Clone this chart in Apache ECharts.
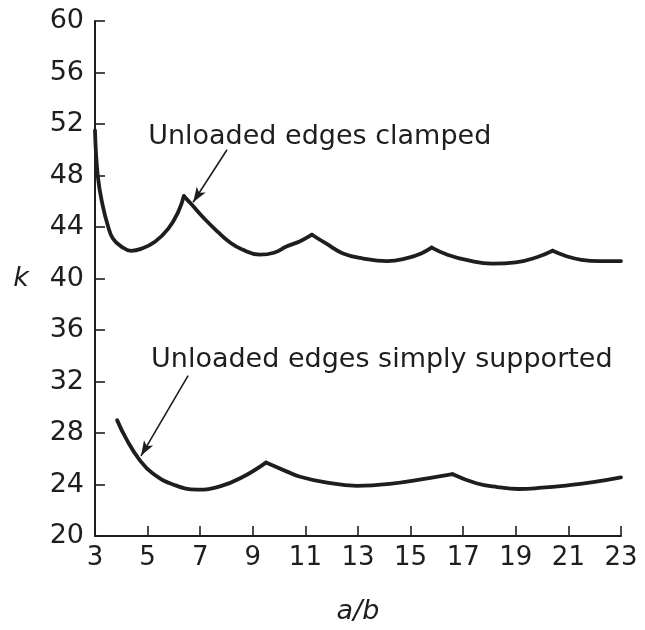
<!DOCTYPE html>
<html>
<head>
<meta charset="utf-8">
<script src="https://cdn.jsdelivr.net/npm/echarts@6/dist/echarts.min.js"></script>
<style>
  html, body { margin: 0; padding: 0; background: #fff; }
  #chart { width: 645px; height: 630px; }
</style>
</head>
<body>
<div id="chart"></div>
<script>
// Buckling coefficient k of a long plate versus aspect ratio a/b

const xTicks = [3, 5, 7, 9, 11, 13, 15, 17, 19, 21, 23];
const yTicks = [20, 24, 28, 32, 36, 40, 44, 48, 52, 56, 60];

// Unloaded edges clamped
const clampedAB = [3.0, 3.11, 3.3, 3.49, 3.68, 3.99, 4.37, 4.75, 5.28, 5.78, 6.16, 6.38,
  6.65, 7.18, 7.68, 8.1, 8.6, 9.27, 9.8, 10.3, 10.8, 11.25,
  11.8, 12.43, 13.2, 14.1, 14.9, 15.4, 15.8,
  16.4, 17.2, 18.1, 19.0, 19.8, 20.4,
  20.9, 21.5, 22.2, 23.0];
const clampedK = [51.5, 47.9, 45.6, 44.1, 43.1, 42.5, 42.15, 42.3, 42.85, 43.85, 45.15, 46.4,
  45.8, 44.6, 43.6, 42.85, 42.25, 41.85, 42.0, 42.5, 42.9, 43.4,
  42.7, 41.95, 41.55, 41.35, 41.6, 41.95, 42.4,
  41.85, 41.4, 41.15, 41.25, 41.65, 42.15,
  41.75, 41.45, 41.35, 41.35];
// a/b values where the buckle mode changes (cusps)
const clampedCusps = [6.38, 11.25, 15.8, 20.4];

// Unloaded edges simply supported
const simplyAB = [3.84, 4.2, 4.7, 5.2, 5.97, 6.88, 7.75, 8.63, 9.5,
  10.3, 10.8, 11.67, 12.96, 14.2, 15.7, 16.6,
  17.5, 18.3, 19.1, 20.0, 20.8, 22.0, 23.0];
const simplyK = [29.0, 27.5, 25.9, 24.85, 24.0, 23.6, 23.85, 24.6, 25.7,
  25.0, 24.6, 24.2, 23.9, 24.05, 24.5, 24.8,
  24.1, 23.8, 23.65, 23.75, 23.9, 24.2, 24.55];
const simplyCusps = [9.5, 16.6];

// Annotation labels with their leader arrows, in data coordinates
const clampedLabel = { text: 'Unloaded edges clamped', at: [5.02, 51.0] };
const clampedArrow = { from: [8.02, 50.0], to: [6.73, 45.92] };
const simplyLabel = { text: 'Unloaded edges simply supported', at: [5.13, 33.65] };
const simplyArrow = { from: [6.54, 32.46], to: [4.75, 26.23] };

const INK = '#1e1e1e';
const FONT = 'DejaVu Sans';

// Break a curve into smooth arcs joined at sharp cusps
function arcs(xs, ys, cusps) {
  const out = [];
  let cur = [];
  xs.forEach((x, i) => {
    cur.push([x, ys[i]]);
    if (cusps.indexOf(x) >= 0 && i < xs.length - 1) {
      out.push(cur);
      cur = [[x, ys[i]]];
    }
  });
  out.push(cur);
  return out;
}

function arrowLine(a) {
  return {
    silent: true,
    symbol: ['none', 'arrow'],
    symbolSize: 12,
    lineStyle: { color: INK, width: 1.6, type: 'solid' },
    itemStyle: { color: INK },
    label: { show: false },
    emphasis: { disabled: true },
    animation: false,
    data: [[
      { coord: a.from, symbol: 'none' },
      { coord: a.to, symbol: 'arrow', symbolSize: [8, 15] }
    ]]
  };
}

function curveSeries(xs, ys, cusps, arrow) {
  return arcs(xs, ys, cusps).map((seg, i) => {
    const s = {
      type: 'line',
      data: seg,
      smooth: 0.45,
      showSymbol: false,
      silent: true,
      animation: false,
      lineStyle: { color: INK, width: 3.8, cap: 'round', join: 'round' }
    };
    if (i === 0) s.markLine = arrowLine(arrow);
    return s;
  });
}

const chart = echarts.init(document.getElementById('chart'), null, { renderer: 'canvas' });

chart.setOption({
  backgroundColor: '#ffffff',
  animation: false,
  grid: { left: 95, right: 24, top: 21, bottom: 90, containLabel: false },
  xAxis: {
    type: 'value',
    min: 3,
    max: 23,
    interval: 2,
    name: 'a/b',
    nameLocation: 'middle',
    nameGap: 62,
    nameTextStyle: { fontFamily: FONT, fontSize: 27, fontStyle: 'italic', color: INK },
    axisLine: { show: true, onZero: false, lineStyle: { color: INK, width: 2 } },
    axisTick: { show: true, inside: true, length: 10, customValues: xTicks, lineStyle: { color: INK, width: 1.6 } },
    axisLabel: { customValues: xTicks, margin: 9, fontFamily: FONT, fontSize: 26, color: INK },
    splitLine: { show: false }
  },
  yAxis: {
    type: 'value',
    min: 20,
    max: 60,
    interval: 4,
    name: 'k',
    nameLocation: 'middle',
    nameRotate: 0,
    nameGap: 66,
    nameTextStyle: { fontFamily: FONT, fontSize: 27, fontStyle: 'italic', color: INK },
    axisLine: { show: true, onZero: false, lineStyle: { color: INK, width: 2 } },
    axisTick: { show: true, inside: true, length: 10, customValues: yTicks, lineStyle: { color: INK, width: 1.6 } },
    axisLabel: { customValues: yTicks, margin: 11, fontFamily: FONT, fontSize: 27, color: INK },
    splitLine: { show: false }
  },
  series: [
    ...curveSeries(clampedAB, clampedK, clampedCusps, clampedArrow),
    ...curveSeries(simplyAB, simplyK, simplyCusps, simplyArrow)
  ]
});

// Place the curve labels through the axes' own scales
function labelText(lbl) {
  const p = chart.convertToPixel({ gridIndex: 0 }, lbl.at);
  return {
    type: 'text',
    x: p[0],
    y: p[1],
    silent: true,
    style: {
      text: lbl.text,
      font: '27px "' + FONT + '"',
      fill: INK,
      textAlign: 'left',
      textVerticalAlign: 'middle',
      align: 'left',
      verticalAlign: 'middle'
    }
  };
}

chart.setOption({ graphic: [labelText(clampedLabel), labelText(simplyLabel)] });
</script>
</body>
</html>
